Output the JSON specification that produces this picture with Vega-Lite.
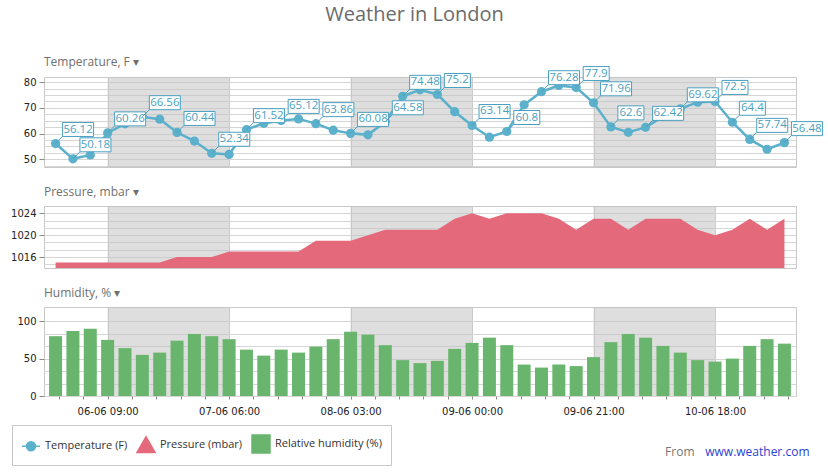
{
  "$schema": "https://vega.github.io/schema/vega-lite/v6.json",
  "background": "white",
  "padding": {"left": 10, "top": 5, "right": 5, "bottom": 5},
  "bounds": "flush",
  "spacing": 39,
  "title": {"text": "Weather in London", "fontSize": 20, "font": "Open Sans", "fontWeight": "normal", "color": "#6b6b6b", "anchor": "middle", "offset": 30, "dx": -3},
  "datasets": {
    "bands": [
      {"time": "2016-06-06T09:00:00Z", "end": "2016-06-07T06:00:00Z"},
      {"time": "2016-06-08T03:00:00Z", "end": "2016-06-09T00:00:00Z"},
      {"time": "2016-06-09T21:00:00Z", "end": "2016-06-10T18:00:00Z"}
    ],
    "weather": [
      {"time": "2016-06-06T00:00:00Z", "temp": 56.12, "pressure": 1015, "humidity": 80, "labeled": true},
      {"time": "2016-06-06T03:00:00Z", "temp": 50.18, "pressure": 1015, "humidity": 87, "labeled": true},
      {"time": "2016-06-06T06:00:00Z", "temp": 51.7, "pressure": 1015, "humidity": 90, "labeled": false},
      {"time": "2016-06-06T09:00:00Z", "temp": 60.26, "pressure": 1015, "humidity": 75, "labeled": true},
      {"time": "2016-06-06T12:00:00Z", "temp": 63.8, "pressure": 1015, "humidity": 64, "labeled": false},
      {"time": "2016-06-06T15:00:00Z", "temp": 66.56, "pressure": 1015, "humidity": 55, "labeled": true},
      {"time": "2016-06-06T18:00:00Z", "temp": 65.6, "pressure": 1015, "humidity": 58, "labeled": false},
      {"time": "2016-06-06T21:00:00Z", "temp": 60.44, "pressure": 1016, "humidity": 74, "labeled": true},
      {"time": "2016-06-07T00:00:00Z", "temp": 57.1, "pressure": 1016, "humidity": 83, "labeled": false},
      {"time": "2016-06-07T03:00:00Z", "temp": 52.34, "pressure": 1016, "humidity": 80, "labeled": true},
      {"time": "2016-06-07T06:00:00Z", "temp": 51.9, "pressure": 1017, "humidity": 76, "labeled": false},
      {"time": "2016-06-07T09:00:00Z", "temp": 61.52, "pressure": 1017, "humidity": 62, "labeled": true},
      {"time": "2016-06-07T12:00:00Z", "temp": 64.0, "pressure": 1017, "humidity": 54, "labeled": false},
      {"time": "2016-06-07T15:00:00Z", "temp": 65.12, "pressure": 1017, "humidity": 62, "labeled": true},
      {"time": "2016-06-07T18:00:00Z", "temp": 65.7, "pressure": 1017, "humidity": 58, "labeled": false},
      {"time": "2016-06-07T21:00:00Z", "temp": 63.86, "pressure": 1019, "humidity": 66, "labeled": true},
      {"time": "2016-06-08T00:00:00Z", "temp": 61.3, "pressure": 1019, "humidity": 76, "labeled": false},
      {"time": "2016-06-08T03:00:00Z", "temp": 60.08, "pressure": 1019, "humidity": 86, "labeled": true},
      {"time": "2016-06-08T06:00:00Z", "temp": 59.5, "pressure": 1020, "humidity": 82, "labeled": false},
      {"time": "2016-06-08T09:00:00Z", "temp": 64.58, "pressure": 1021, "humidity": 68, "labeled": true},
      {"time": "2016-06-08T12:00:00Z", "temp": 74.48, "pressure": 1021, "humidity": 48, "labeled": true},
      {"time": "2016-06-08T15:00:00Z", "temp": 77.0, "pressure": 1021, "humidity": 44, "labeled": false},
      {"time": "2016-06-08T18:00:00Z", "temp": 75.2, "pressure": 1021, "humidity": 47, "labeled": true},
      {"time": "2016-06-08T21:00:00Z", "temp": 68.5, "pressure": 1023, "humidity": 63, "labeled": false},
      {"time": "2016-06-09T00:00:00Z", "temp": 63.14, "pressure": 1024, "humidity": 71, "labeled": true},
      {"time": "2016-06-09T03:00:00Z", "temp": 58.6, "pressure": 1023, "humidity": 78, "labeled": false},
      {"time": "2016-06-09T06:00:00Z", "temp": 60.8, "pressure": 1024, "humidity": 68, "labeled": true},
      {"time": "2016-06-09T09:00:00Z", "temp": 71.2, "pressure": 1024, "humidity": 42, "labeled": false},
      {"time": "2016-06-09T12:00:00Z", "temp": 76.28, "pressure": 1024, "humidity": 38, "labeled": true},
      {"time": "2016-06-09T15:00:00Z", "temp": 78.7, "pressure": 1023, "humidity": 42, "labeled": false},
      {"time": "2016-06-09T18:00:00Z", "temp": 77.9, "pressure": 1021, "humidity": 40, "labeled": true},
      {"time": "2016-06-09T21:00:00Z", "temp": 71.96, "pressure": 1023, "humidity": 52, "labeled": true},
      {"time": "2016-06-10T00:00:00Z", "temp": 62.6, "pressure": 1023, "humidity": 72, "labeled": true},
      {"time": "2016-06-10T03:00:00Z", "temp": 60.5, "pressure": 1021, "humidity": 83, "labeled": false},
      {"time": "2016-06-10T06:00:00Z", "temp": 62.42, "pressure": 1023, "humidity": 78, "labeled": true},
      {"time": "2016-06-10T09:00:00Z", "temp": 66.6, "pressure": 1023, "humidity": 67, "labeled": false},
      {"time": "2016-06-10T12:00:00Z", "temp": 69.62, "pressure": 1023, "humidity": 58, "labeled": true},
      {"time": "2016-06-10T15:00:00Z", "temp": 72.2, "pressure": 1021, "humidity": 48, "labeled": false},
      {"time": "2016-06-10T18:00:00Z", "temp": 72.5, "pressure": 1020, "humidity": 46, "labeled": true},
      {"time": "2016-06-10T21:00:00Z", "temp": 64.4, "pressure": 1021, "humidity": 50, "labeled": true},
      {"time": "2016-06-11T00:00:00Z", "temp": 57.74, "pressure": 1023, "humidity": 67, "labeled": true},
      {"time": "2016-06-11T03:00:00Z", "temp": 53.9, "pressure": 1021, "humidity": 76, "labeled": false},
      {"time": "2016-06-11T06:00:00Z", "temp": 56.48, "pressure": 1023, "humidity": 70, "labeled": true}
    ]
  },
  "vconcat": [
    {
      "width": 752,
      "height": 90,
      "title": {"text": "Temperature, F  ▾", "anchor": "start", "frame": "group", "fontSize": 12, "font": "Open Sans", "fontWeight": "normal", "color": "#707070", "offset": -4},
      "layer": [
        {
          "data": {"name": "bands"},
          "mark": {"type": "rect", "color": "#c2c2c2", "opacity": 0.55},
          "encoding": {
            "x": {"field": "time", "type": "temporal", "scale": {"type": "utc", "domain": [1465164000000, 1465632000000]},
              "axis": {"title": null, "labels": false, "ticks": false, "domain": false, "gridColor": "#cccccc", "tickCount": 100,
                "values": [1465173360000, 1465188480000, 1465203600000, 1465218720000, 1465233840000, 1465248960000, 1465264080000, 1465279200000, 1465294320000, 1465309440000, 1465324560000, 1465339680000, 1465354800000, 1465369920000, 1465385040000, 1465400160000, 1465415280000, 1465430400000, 1465445520000, 1465460640000, 1465475760000, 1465490880000, 1465506000000, 1465521120000, 1465536240000, 1465551360000, 1465566480000, 1465581600000, 1465596720000, 1465611840000, 1465626960000],
                "gridOpacity": {"condition": {"test": "((datum.value - 1465203600000) / 15120000) % 5 == 0", "value": 1}, "value": 0}}},
            "x2": {"field": "end"}
          }
        },
        {
          "data": {"name": "weather"},
          "mark": {"type": "line", "strokeWidth": 2.5},
          "encoding": {
            "x": {"field": "time", "type": "temporal", "scale": {"type": "utc", "domain": [1465164000000, 1465632000000]}},
            "y": {"field": "temp", "type": "quantitative", "scale": {"domain": [47, 82], "zero": false, "nice": false},
              "axis": {"title": null, "values": [47.5, 50, 52.5, 55, 57.5, 60, 62.5, 65, 67.5, 70, 72.5, 75, 77.5, 80], "tickCount": 100,
                "labelExpr": "datum.value % 10 == 0 ? format(datum.value, 'd') : ''", "labelOverlap": false,
                "tickOpacity": {"condition": {"test": "datum.value % 10 == 0", "value": 1}, "value": 0},
                "tickSize": 5, "labelPadding": 3, "minExtent": 33, "maxExtent": 33}},
            "color": {"datum": "Temperature (F)", "type": "nominal",
              "scale": {"domain": ["Temperature (F)", "Pressure (mbar)", "Relative humidity (%)"], "range": ["#5bb0cc", "#e46a7b", "#6ab56d"]},
              "legend": {"title": null, "orient": "none", "legendX": -32, "legendY": 348, "direction": "horizontal",
                "strokeColor": "#c8c8c8", "padding": 9, "symbolSize": 324, "labelFont": "Open Sans", "labelFontSize": 11, "labelColor": "#333333", "columnPadding": 6, "labelOffset": 4,
                "encode": {"symbols": {"update": {
                  "shape": {"signal": "datum.value == 'Temperature (F)' ? 'M-1,0H1M0.5,0A0.5,0.5,0,1,1,-0.5,0A0.5,0.5,0,1,1,0.5,0Z' : datum.value == 'Pressure (mbar)' ? 'triangle-up' : 'square'"},
                  "fill": {"scale": "color", "field": "value"},
                  "stroke": {"scale": "color", "field": "value"},
                  "strokeWidth": {"value": 1.5},
                  "opacity": {"value": 1},
                  "fillOpacity": {"value": 1}}}}}}
          }
        },
        {
          "data": {"name": "weather"},
          "mark": {"type": "point", "filled": true, "size": 85, "opacity": 1},
          "encoding": {
            "x": {"field": "time", "type": "temporal", "scale": {"type": "utc", "domain": [1465164000000, 1465632000000]}},
            "y": {"field": "temp", "type": "quantitative"},
            "color": {"datum": "Temperature (F)", "type": "nominal",
              "scale": {"domain": ["Temperature (F)", "Pressure (mbar)", "Relative humidity (%)"], "range": ["#5bb0cc", "#e46a7b", "#6ab56d"]}}
          }
        },
        {
          "data": {"name": "weather"},
          "transform": [{"filter": "datum.labeled && length('' + datum.temp) == 5"}],
          "mark": {"type": "point", "shape": "M0,0L7,-7M7,-7H38V-21H7Z", "size": 4, "filled": true, "fill": "white", "stroke": "#4a9fc0", "strokeWidth": 1, "opacity": 1},
          "encoding": {
            "x": {"field": "time", "type": "temporal", "scale": {"type": "utc", "domain": [1465164000000, 1465632000000]}},
            "y": {"field": "temp", "type": "quantitative"}
          }
        },
        {
          "data": {"name": "weather"},
          "transform": [{"filter": "datum.labeled && length('' + datum.temp) == 4"}],
          "mark": {"type": "point", "shape": "M0,0L7,-7M7,-7H33V-21H7Z", "size": 4, "filled": true, "fill": "white", "stroke": "#4a9fc0", "strokeWidth": 1, "opacity": 1},
          "encoding": {
            "x": {"field": "time", "type": "temporal", "scale": {"type": "utc", "domain": [1465164000000, 1465632000000]}},
            "y": {"field": "temp", "type": "quantitative"}
          }
        },
        {
          "data": {"name": "weather"},
          "transform": [{"filter": "datum.labeled && length('' + datum.temp) == 5"}],
          "mark": {"type": "text", "font": "Open Sans", "fontSize": 11.5, "color": "#4a9fc0", "align": "center", "baseline": "middle", "dx": 22.5, "dy": -14},
          "encoding": {
            "x": {"field": "time", "type": "temporal", "scale": {"type": "utc", "domain": [1465164000000, 1465632000000]}},
            "y": {"field": "temp", "type": "quantitative"},
            "text": {"field": "temp", "type": "nominal"}
          }
        },
        {
          "data": {"name": "weather"},
          "transform": [{"filter": "datum.labeled && length('' + datum.temp) == 4"}],
          "mark": {"type": "text", "font": "Open Sans", "fontSize": 11.5, "color": "#4a9fc0", "align": "center", "baseline": "middle", "dx": 20, "dy": -14},
          "encoding": {
            "x": {"field": "time", "type": "temporal", "scale": {"type": "utc", "domain": [1465164000000, 1465632000000]}},
            "y": {"field": "temp", "type": "quantitative"},
            "text": {"field": "temp", "type": "nominal"}
          }
        }
      ]
    },
    {
      "width": 752,
      "height": 62,
      "title": {"text": "Pressure, mbar  ▾", "anchor": "start", "frame": "group", "fontSize": 12, "font": "Open Sans", "fontWeight": "normal", "color": "#707070", "offset": 7},
      "layer": [
        {
          "data": {"name": "bands"},
          "mark": {"type": "rect", "color": "#c2c2c2", "opacity": 0.55},
          "encoding": {
            "x": {"field": "time", "type": "temporal", "scale": {"type": "utc", "domain": [1465164000000, 1465632000000]},
              "axis": {"title": null, "labels": false, "ticks": false, "domain": false, "gridColor": "#cccccc", "tickCount": 100,
                "values": [1465173360000, 1465188480000, 1465203600000, 1465218720000, 1465233840000, 1465248960000, 1465264080000, 1465279200000, 1465294320000, 1465309440000, 1465324560000, 1465339680000, 1465354800000, 1465369920000, 1465385040000, 1465400160000, 1465415280000, 1465430400000, 1465445520000, 1465460640000, 1465475760000, 1465490880000, 1465506000000, 1465521120000, 1465536240000, 1465551360000, 1465566480000, 1465581600000, 1465596720000, 1465611840000, 1465626960000],
                "gridOpacity": {"condition": {"test": "((datum.value - 1465203600000) / 15120000) % 5 == 0", "value": 1}, "value": 0}}},
            "x2": {"field": "end"}
          }
        },
        {
          "data": {"name": "weather"},
          "mark": {"type": "area", "opacity": 1},
          "encoding": {
            "x": {"field": "time", "type": "temporal", "scale": {"type": "utc", "domain": [1465164000000, 1465632000000]}},
            "y": {"field": "pressure", "type": "quantitative", "scale": {"domain": [1014, 1025.3333], "zero": false, "nice": false},
              "axis": {"title": null, "values": [1014.6667, 1016, 1017.3333, 1018.6667, 1020, 1021.3333, 1022.6667, 1024], "tickCount": 100,
                "labelExpr": "datum.value % 4 == 0 ? format(datum.value, 'd') : ''", "labelOverlap": false,
                "tickOpacity": {"condition": {"test": "datum.value % 4 == 0", "value": 1}, "value": 0},
                "tickSize": 5, "labelPadding": 3, "minExtent": 33, "maxExtent": 33}},
            "y2": {"datum": 1014},
            "color": {"datum": "Pressure (mbar)", "type": "nominal",
              "scale": {"domain": ["Temperature (F)", "Pressure (mbar)", "Relative humidity (%)"], "range": ["#5bb0cc", "#e46a7b", "#6ab56d"]}}
          }
        }
      ]
    },
    {
      "width": 752,
      "height": 89,
      "title": {"text": "Humidity, %  ▾", "anchor": "start", "frame": "group", "fontSize": 12, "font": "Open Sans", "fontWeight": "normal", "color": "#707070", "offset": 7},
      "layer": [
        {
          "data": {"name": "bands"},
          "mark": {"type": "rect", "color": "#c2c2c2", "opacity": 0.55},
          "encoding": {
            "x": {"field": "time", "type": "temporal", "scale": {"type": "utc", "domain": [1465164000000, 1465632000000], "padding": 0},
              "axis": {"domain": false, "tickSize": 3, "labelPadding": 7, "labelOverlap": false, "labelFlush": false, "labelBound": false, "gridColor": "#cccccc", "tickCount": 100,
                "values": [1465173360000, 1465188480000, 1465203600000, 1465218720000, 1465233840000, 1465248960000, 1465264080000, 1465279200000, 1465294320000, 1465309440000, 1465324560000, 1465339680000, 1465354800000, 1465369920000, 1465385040000, 1465400160000, 1465415280000, 1465430400000, 1465445520000, 1465460640000, 1465475760000, 1465490880000, 1465506000000, 1465521120000, 1465536240000, 1465551360000, 1465566480000, 1465581600000, 1465596720000, 1465611840000, 1465626960000],
                "labelExpr": "((datum.value - 1465203600000) / 15120000) % 5 == 0 ? utcFormat(datum.value, '%d-%m %H:%M') : ''",
                "gridOpacity": {"condition": {"test": "((datum.value - 1465203600000) / 15120000) % 5 == 0", "value": 1}, "value": 0},
                "title": "www.weather.com", "titleX": 765, "titleY": 55, "titleAlign": "right", "titleBaseline": "middle",
                "titleColor": "#2a3fd0", "titleFont": "Open Sans", "titleFontSize": 12, "titleFontWeight": "normal"}},
            "x2": {"field": "end"}
          }
        },
        {
          "data": {"name": "weather"},
          "mark": {"type": "bar", "size": 13},
          "encoding": {
            "x": {"field": "time", "type": "temporal", "scale": {"type": "utc", "domain": [1465164000000, 1465632000000], "padding": 0}},
            "y": {"field": "humidity", "type": "quantitative", "scale": {"domain": [0, 119], "nice": false},
              "axis": {"values": [0, 16.6667, 33.3333, 50, 66.6667, 83.3333, 100], "tickCount": 100,
                "labelExpr": "datum.value % 50 == 0 ? format(datum.value, 'd') : ''", "labelOverlap": false,
                "tickOpacity": {"condition": {"test": "datum.value % 50 == 0", "value": 1}, "value": 0},
                "tickSize": 5, "labelPadding": 3, "minExtent": 33, "maxExtent": 33,
                "title": "From", "titleAngle": 0, "titleX": 650, "titleY": 144, "titleAlign": "right", "titleBaseline": "middle",
                "titleColor": "#777777", "titleFont": "Open Sans", "titleFontSize": 12, "titleFontWeight": "normal"}},
            "color": {"datum": "Relative humidity (%)", "type": "nominal",
              "scale": {"domain": ["Temperature (F)", "Pressure (mbar)", "Relative humidity (%)"], "range": ["#5bb0cc", "#e46a7b", "#6ab56d"]}}
          }
        },
        {
          "mark": {"type": "rule", "color": "#44537a", "strokeWidth": 1.2},
          "encoding": {"y": {"datum": 100, "type": "quantitative", "axis": {"values": [0, 16.6667, 33.3333, 50, 66.6667, 83.3333, 100], "tickCount": 100}}}
        }
      ]
    }
  ],
  "resolve": {"scale": {"color": "shared"}, "legend": {"color": "shared"}},
  "config": {
    "font": "Open Sans",
    "view": {"stroke": "#c8c8c8"},
    "axis": {"labelFont": "DejaVu Sans", "labelFontSize": 10, "labelColor": "#222222", "gridColor": "#d6d6d6", "tickColor": "#8a8a8a", "domain": false}
  }
}
